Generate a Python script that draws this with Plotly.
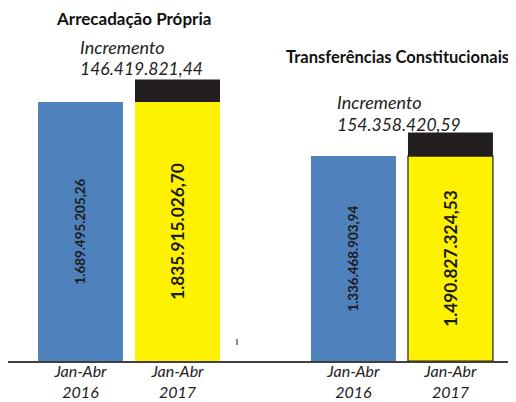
import plotly.graph_objects as go

groups = ["Arrecadação Própria", "Transferências Constitucionais"]
period_labels = ["Jan-Abr<br>2016", "Jan-Abr<br>2017"]
values_2016 = [1689495205.26, 1336468903.94]
values_2017 = [1835915026.70, 1490827324.53]
increments = [146419821.44, 154358420.59]
labels_2016 = ["1.689.495.205,26", "1.336.468.903,94"]
labels_2017 = ["1.835.915.026,70", "1.490.827.324,53"]
increment_labels = ["146.419.821,44", "154.358.420,59"]

GROUP_STEP = 2.814
x2016 = [g * GROUP_STEP for g in range(len(groups))]
x2017 = [g * GROUP_STEP + 1 for g in range(len(groups))]

FONT = "Lato"
BLUE = "#4f81bd"
YELLOW = "#fff200"
BLACK = "#231f20"
W = 0.876

fig = go.Figure()
fig.add_trace(go.Bar(
    x=x2016, y=values_2016, width=W, marker=dict(color=BLUE, line=dict(width=0)),
    text=labels_2016, textposition="inside", insidetextanchor="middle", textangle=-90,
    textfont=dict(family=FONT, size=13.4, color="#1a1a1a", weight="bold"),
    constraintext="none", hoverinfo="skip", showlegend=False,
))
fig.add_trace(go.Bar(
    x=x2017, y=values_2016, width=W,
    marker=dict(color=YELLOW, line=dict(width=[0, 1.2], color=BLACK)),
    text=labels_2017, textposition="inside", insidetextanchor="middle", textangle=-90,
    textfont=dict(family=FONT, size=17.3, color="#1a1a1a", weight="bold"),
    constraintext="none", hoverinfo="skip", showlegend=False,
))
fig.add_trace(go.Bar(
    x=x2017, y=increments, base=values_2016, width=W,
    marker=dict(color=BLACK, line=dict(width=0)),
    hoverinfo="skip", showlegend=False,
))

tickvals = []
ticktext = []
for a, b in zip(x2016, x2017):
    tickvals += [a, b]
    ticktext += period_labels

annotations = []
title_pos = [(0.546, 2.2375e9), (3.268, 1.983e9)]
title_sizes = [17, 16.5]
incr_pos = [(-0.005, 1.911e9, 2.048e9), (2.644, 1.546e9, 1.690e9)]
for i, g in enumerate(groups):
    annotations.append(dict(x=title_pos[i][0], y=title_pos[i][1], xref="x", yref="y",
                            text=g, showarrow=False, xanchor="center", yanchor="middle",
                            font=dict(family=FONT, size=title_sizes[i], color="#111", weight="bold")))
    annotations.append(dict(x=incr_pos[i][0], y=incr_pos[i][2], xref="x", yref="y",
                            text="Incremento", showarrow=False, xanchor="left", yanchor="middle",
                            xshift=-2,
                            font=dict(family=FONT, size=18, color="#222", style="italic")))
    annotations.append(dict(x=incr_pos[i][0], y=incr_pos[i][1], xref="x", yref="y",
                            text=increment_labels[i], showarrow=False, xanchor="left", yanchor="middle",
                            xshift=-2,
                            font=dict(family=FONT, size=17.5, color="#222", style="italic")))

# Page body has an 8px default margin, so the figure is sized to fill the rest of the window.
fig.update_layout(
    width=508, height=394,
    margin=dict(l=0, r=0, t=0, b=41),
    paper_bgcolor="white", plot_bgcolor="white",
    barmode="overlay",
    annotations=annotations,
    shapes=[dict(type="line", xref="x", yref="y", x0=1.613, x1=1.613, y0=0.104e9, y1=0.1435e9,
                 line=dict(color="#888", width=2))],
    xaxis=dict(range=[-0.7474, 4.4897], tickvals=tickvals, ticktext=ticktext,
               showgrid=False, zeroline=False, showline=True, linecolor="#404040", linewidth=2,
               ticks="", ticklabelstandoff=-5,
               tickfont=dict(family=FONT, size=16, color="#222", style="italic"),
               automargin=False, fixedrange=True),
    yaxis=dict(range=[0, 2.3027e9], visible=False, fixedrange=True),
)

fig.write_html("out.html")
